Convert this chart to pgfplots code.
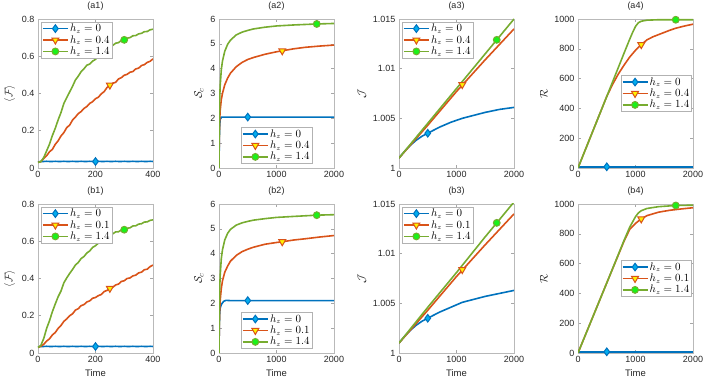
\documentclass[border=0pt]{standalone}
\usepackage[no-math]{fontspec}
\setmainfont{Liberation Sans}
\usepackage{pgfplots}
\pgfplotsset{compat=1.18}

\definecolor{mblue}{rgb}{0,0.447,0.741}
\definecolor{morange}{rgb}{0.85,0.325,0.098}
\definecolor{mgreen}{rgb}{0.466,0.674,0.188}
\definecolor{mface}{rgb}{0.1,0.95,0.1}

\pgfplotsset{
  mat/.style={
    scale only axis, width=115pt, height=149pt, anchor=south west,
    axis line style={draw=gray!55, line width=0.5pt},
    tick align=inside, tick pos=both,
    xticklabel pos=lower, yticklabel pos=left,
    major tick length=3pt,
    tick style={draw=gray!70, line width=0.5pt},
    ticklabel style={font=\fontsize{9}{10}\selectfont, text=black!85},
    /pgf/number format/assume math mode=true,
    /pgf/number format/1000 sep={},
    title style={font=\fontsize{9}{10}\selectfont, text=black!85, yshift=-1pt},
    ylabel style={font=\fontsize{11}{12}\selectfont, text=black!85},
    xlabel style={font=\fontsize{9.5}{10}\selectfont, text=black!85},
    clip mode=individual,
    legend cell align=left,
    legend style={draw=gray!60, fill=white,
      inner xsep=1pt, inner ysep=0.5pt, row sep=-0.5pt,
      nodes={inner sep=1.4pt, font=\fontsize{10.5}{11}\selectfont}},
    legend image code/.code={
      \draw[mark repeat=2,mark phase=2] plot coordinates {(0pt,0pt) (12.5pt,0pt) (25pt,0pt)};},
  },
  ltr/.style={legend style={at={(0.025,0.98)}, anchor=north west}},
  lsouth/.style={legend style={at={(0.5,0.03)}, anchor=south}},
  least/.style={legend style={at={(0.99,0.5)}, anchor=east}},
  tshort/.style={xmin=0, xmax=400, xtick={0,200,400}},
  tlong/.style={xmin=0, xmax=2000, xtick={0,1000,2000}},
  yF/.style={ymin=0, ymax=0.8, ytick={0,0.2,0.4,0.6,0.8}, ylabel={$\langle\mathcal{F}\rangle$}},
  yS/.style={ymin=0, ymax=6, ytick={0,1,...,6}, ylabel={$\mathcal{S}_c$}},
  yJ/.style={ymin=1, ymax=1.015, ytick={1,1.005,1.01,1.015},
    yticklabels={1,1.005,1.01,1.015}, scaled y ticks=false, ylabel={$\mathcal{J}$}},
  yR/.style={ymin=0, ymax=1000, ytick={0,200,...,1000}, ylabel={$\mathcal{R}$}},
  sB/.style={mblue, line width=1.6pt},
  sO/.style={morange, line width=1.6pt},
  sG/.style={mgreen, line width=1.6pt},
  mB/.style={mark=diamond*, mark size=3.8pt, mark options={solid, fill=cyan, draw=mblue, line width=1pt}},
  mO/.style={mark=triangle*, mark size=4pt, mark options={solid, rotate=180, fill=yellow, draw=morange, line width=1pt}},
  mG/.style={mark=*, mark size=3.4pt, mark options={solid, fill=mface, draw=mgreen, line width=1pt}},
}

% ---- (a1)/(b1) data: <F> vs time ----
\pgfplotstableread{
t    B      O      G
0    0.032  0.030  0.030
10   0.035  0.034  0.034
20   0.035  0.051  0.056
30   0.036  0.066  0.092
40   0.035  0.087  0.128
50   0.035  0.100  0.174
60   0.036  0.127  0.213
70   0.035  0.146  0.258
80   0.035  0.172  0.298
90   0.036  0.190  0.347
100  0.035  0.217  0.378
110  0.035  0.230  0.408
120  0.036  0.257  0.438
130  0.035  0.273  0.472
140  0.035  0.292  0.493
150  0.036  0.303  0.517
160  0.035  0.320  0.533
170  0.035  0.330  0.552
180  0.036  0.347  0.558
190  0.035  0.356  0.574
200  0.035  0.372  0.583
210  0.036  0.380  0.600
220  0.035  0.398  0.610
230  0.035  0.410  0.627
240  0.036  0.432  0.638
250  0.035  0.443  0.652
260  0.035  0.455  0.658
270  0.036  0.460  0.670
280  0.035  0.478  0.673
290  0.035  0.485  0.685
300  0.036  0.498  0.688
310  0.035  0.503  0.697
320  0.035  0.514  0.700
330  0.036  0.518  0.710
340  0.035  0.532  0.711
350  0.035  0.536  0.720
360  0.036  0.550  0.723
370  0.035  0.555  0.732
380  0.035  0.567  0.733
390  0.036  0.573  0.742
400  0.035  0.586  0.745
}\tabAone
\pgfplotstableread{
t    B      O      G
0    0.032  0.030  0.030
10   0.035  0.036  0.041
20   0.035  0.047  0.078
30   0.036  0.064  0.132
40   0.035  0.076  0.173
50   0.035  0.097  0.222
60   0.036  0.110  0.263
70   0.035  0.132  0.302
80   0.035  0.148  0.333
90   0.036  0.170  0.377
100  0.035  0.183  0.403
110  0.035  0.200  0.427
120  0.036  0.210  0.448
130  0.035  0.230  0.472
140  0.035  0.238  0.486
150  0.036  0.254  0.507
160  0.035  0.260  0.518
170  0.035  0.274  0.537
180  0.036  0.280  0.548
190  0.035  0.294  0.567
200  0.035  0.298  0.576
210  0.036  0.308  0.590
220  0.035  0.314  0.598
230  0.035  0.330  0.614
240  0.036  0.336  0.623
250  0.035  0.347  0.637
260  0.035  0.353  0.640
270  0.036  0.365  0.650
280  0.035  0.370  0.651
290  0.035  0.384  0.660
300  0.036  0.388  0.662
310  0.035  0.400  0.670
320  0.035  0.403  0.672
330  0.036  0.414  0.682
340  0.035  0.418  0.683
350  0.035  0.430  0.692
360  0.036  0.434  0.694
370  0.035  0.447  0.703
380  0.035  0.450  0.704
390  0.036  0.464  0.712
400  0.035  0.472  0.715
}\tabBone

\begin{document}
\begin{tikzpicture}
\path[use as bounding box] (0,0) rectangle (713pt,385pt);

% ================= row a =================
\begin{axis}[mat, at={(38pt,217pt)}, tshort, yF, title={(a1)}, ltr]
\addlegendimage{sB,mB}\addlegendimage{sO,mO}\addlegendimage{sG,mG}
\addplot[sB, forget plot] table[x=t,y=B] {\tabAone};
\addplot[sO, forget plot] table[x=t,y=O] {\tabAone};
\addplot[sG, forget plot] table[x=t,y=G] {\tabAone};
\addplot[only marks, mB, forget plot] coordinates {(200,0.035)};
\addplot[only marks, mO, forget plot] coordinates {(250,0.445)};
\addplot[only marks, mG, forget plot] coordinates {(300,0.688)};
\legend{$h_z=0$,$h_z=0.4$,$h_z=1.4$}
\end{axis}

\begin{axis}[mat, at={(219pt,217pt)}, tlong, yS, title={(a2)}, lsouth]
\addlegendimage{sB,mB}\addlegendimage{sO,mO}\addlegendimage{sG,mG}
\addplot[sB, forget plot] coordinates {(0,0) (5,1.0) (10,1.6) (20,1.95) (40,2.05) (2000,2.05)};
\addplot[sO, forget plot] coordinates {(0,0) (5,1.2) (10,1.8) (20,2.3) (40,2.75) (60,3.0) (100,3.35)
  (150,3.62) (200,3.82) (300,4.08) (400,4.25) (500,4.37) (600,4.45) (800,4.58) (1000,4.68)
  (1100,4.72) (1300,4.8) (1500,4.86) (1750,4.91) (2000,4.95)};
\addplot[sG, forget plot] coordinates {(0,0) (5,1.8) (10,2.6) (20,3.3) (40,3.95) (60,4.3) (100,4.7)
  (150,4.98) (200,5.15) (300,5.36) (400,5.47) (500,5.54) (600,5.6) (800,5.67) (1000,5.72)
  (1300,5.76) (1700,5.8) (2000,5.82)};
\addplot[only marks, mB, forget plot] coordinates {(500,2.05)};
\addplot[only marks, mO, forget plot] coordinates {(1100,4.72)};
\addplot[only marks, mG, forget plot] coordinates {(1700,5.8)};
\legend{$h_z=0$,$h_z=0.4$,$h_z=1.4$}
\end{axis}

\begin{axis}[mat, at={(399pt,217pt)}, tlong, yJ, title={(a3)}, ltr]
\addlegendimage{sB,mB}\addlegendimage{sO,mO}\addlegendimage{sG,mG}
\addplot[sB, forget plot] coordinates {(0,1.001) (100,1.0017) (200,1.0023) (300,1.0028) (400,1.0032)
  (500,1.0035) (700,1.0041) (900,1.0046) (1100,1.0050) (1300,1.0053) (1500,1.0056)
  (1750,1.0059) (2000,1.0061)};
\addplot[sO, forget plot] coordinates {(0,1.001) (500,1.0043) (1000,1.0077) (1500,1.0109) (2000,1.014)};
\addplot[sG, forget plot] coordinates {(0,1.001) (500,1.0045) (1000,1.008) (1500,1.0115) (2000,1.015)};
\addplot[only marks, mB, forget plot] coordinates {(500,1.0035)};
\addplot[only marks, mO, forget plot] coordinates {(1100,1.0084)};
\addplot[only marks, mG, forget plot] coordinates {(1700,1.0129)};
\legend{$h_z=0$,$h_z=0.4$,$h_z=1.4$}
\end{axis}

\begin{axis}[mat, at={(578pt,217pt)}, tlong, yR, title={(a4)}, least]
\addlegendimage{sB,mB}\addlegendimage{sO,mO}\addlegendimage{sG,mG}
\addplot[sB, forget plot] coordinates {(0,8) (2000,8)};
\addplot[sO, forget plot] coordinates {(0,0) (500,480) (550,520) (600,560) (700,630) (800,690)
  (900,745) (1000,790) (1100,828) (1200,860) (1300,880) (1400,895) (1500,910) (1600,925)
  (1700,938) (1800,948) (1900,957) (2000,965)};
\addplot[sG, forget plot] coordinates {(0,0) (500,480) (800,770) (900,865) (950,910) (1000,950)
  (1050,975) (1100,985) (1200,992) (1400,995) (2000,995)};
\addplot[only marks, mB, forget plot] coordinates {(500,8)};
\addplot[only marks, mO, forget plot] coordinates {(1100,828)};
\addplot[only marks, mG, forget plot] coordinates {(1700,995)};
\legend{$h_z=0$,$h_z=0.4$,$h_z=1.4$}
\end{axis}

% ================= row b =================
\begin{axis}[mat, at={(38pt,32pt)}, tshort, yF, title={(b1)}, ltr, xlabel={Time}]
\addlegendimage{sB,mB}\addlegendimage{sO,mO}\addlegendimage{sG,mG}
\addplot[sB, forget plot] table[x=t,y=B] {\tabBone};
\addplot[sO, forget plot] table[x=t,y=O] {\tabBone};
\addplot[sG, forget plot] table[x=t,y=G] {\tabBone};
\addplot[only marks, mB, forget plot] coordinates {(200,0.035)};
\addplot[only marks, mO, forget plot] coordinates {(250,0.347)};
\addplot[only marks, mG, forget plot] coordinates {(300,0.662)};
\legend{$h_z=0$,$h_z=0.1$,$h_z=1.4$}
\end{axis}

\begin{axis}[mat, at={(219pt,32pt)}, tlong, yS, title={(b2)}, lsouth, xlabel={Time}]
\addlegendimage{sB,mB}\addlegendimage{sO,mO}\addlegendimage{sG,mG}
\addplot[sB, forget plot] coordinates {(0,0) (5,1.0) (10,1.5) (20,1.8) (40,1.95) (80,2.08) (120,2.12)
  (200,2.11) (2000,2.11)};
\addplot[sO, forget plot] coordinates {(0,0) (5,1.0) (10,1.6) (20,2.1) (40,2.6) (60,2.9) (100,3.25)
  (150,3.5) (200,3.7) (300,3.93) (400,4.08) (500,4.18) (600,4.26) (800,4.38) (1000,4.45)
  (1100,4.48) (1300,4.55) (1500,4.6) (1750,4.67) (2000,4.73)};
\addplot[sG, forget plot] coordinates {(0,0) (5,1.6) (10,2.4) (20,3.1) (40,3.8) (60,4.15) (100,4.55)
  (150,4.82) (200,4.98) (300,5.15) (400,5.24) (500,5.3) (600,5.35) (800,5.41) (1000,5.46)
  (1300,5.5) (1700,5.55) (2000,5.57)};
\addplot[only marks, mB, forget plot] coordinates {(500,2.11)};
\addplot[only marks, mO, forget plot] coordinates {(1100,4.48)};
\addplot[only marks, mG, forget plot] coordinates {(1700,5.55)};
\legend{$h_z=0$,$h_z=0.1$,$h_z=1.4$}
\end{axis}

\begin{axis}[mat, at={(399pt,32pt)}, tlong, yJ, title={(b3)}, ltr, xlabel={Time}]
\addlegendimage{sB,mB}\addlegendimage{sO,mO}\addlegendimage{sG,mG}
\addplot[sB, forget plot] coordinates {(0,1.001) (100,1.0017) (200,1.0023) (300,1.0028) (400,1.0032)
  (500,1.0035) (700,1.0041) (900,1.0046) (1100,1.0051) (1300,1.0054) (1500,1.0057)
  (1750,1.0060) (2000,1.0063)};
\addplot[sO, forget plot] coordinates {(0,1.001) (500,1.0043) (1000,1.0077) (1500,1.0109) (2000,1.014)};
\addplot[sG, forget plot] coordinates {(0,1.001) (500,1.0046) (1000,1.0081) (1500,1.0117) (2000,1.0152)};
\addplot[only marks, mB, forget plot] coordinates {(500,1.0035)};
\addplot[only marks, mO, forget plot] coordinates {(1100,1.0084)};
\addplot[only marks, mG, forget plot] coordinates {(1700,1.0131)};
\legend{$h_z=0$,$h_z=0.1$,$h_z=1.4$}
\end{axis}

\begin{axis}[mat, at={(578pt,32pt)}, tlong, yR, title={(b4)}, least, xlabel={Time}]
\addlegendimage{sB,mB}\addlegendimage{sO,mO}\addlegendimage{sG,mG}
\addplot[sB, forget plot] coordinates {(0,8) (2000,8)};
\addplot[sO, forget plot] coordinates {(0,0) (500,470) (800,750) (900,830) (1000,870) (1100,900)
  (1200,922) (1400,945) (1600,958) (1800,967) (2000,975)};
\addplot[sG, forget plot] coordinates {(0,0) (500,470) (800,755) (900,845) (1000,915) (1050,940)
  (1100,955) (1200,970) (1400,982) (1700,990) (2000,992)};
\addplot[only marks, mB, forget plot] coordinates {(500,8)};
\addplot[only marks, mO, forget plot] coordinates {(1100,900)};
\addplot[only marks, mG, forget plot] coordinates {(1700,990)};
\legend{$h_z=0$,$h_z=0.1$,$h_z=1.4$}
\end{axis}
\end{tikzpicture}
\end{document}
